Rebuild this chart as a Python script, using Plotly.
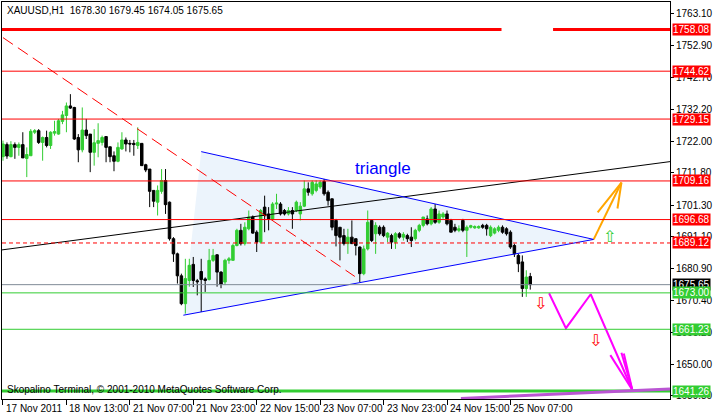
import plotly.graph_objects as go

# ---------------- data ----------------
opens = [1717.0, 1720.9, 1717.0, 1720.9, 1720.0, 1720.9, 1716.4, 1717.3, 1724.9, 1725.4,
         1721.6, 1723.2, 1720.6, 1724.6, 1724.3, 1728.4, 1730.3, 1733.4, 1732.9, 1723.2,
         1719.2, 1725.6, 1724.3, 1718.4, 1721.3, 1721.6, 1723.5, 1720.2, 1717.3, 1715.5,
         1719.5, 1722.4, 1721.3, 1721.3, 1720.6, 1721.3, 1714.4, 1713.0, 1706.1, 1702.3,
         1705.8, 1709.3, 1702.3, 1690.5, 1685.6, 1678.5, 1669.5, 1677.0, 1682.2, 1676.9,
         1679.9, 1677.5, 1677.3, 1683.5, 1685.3, 1679.7, 1676.5, 1683.5, 1683.5, 1688.3,
         1693.2, 1688.9, 1693.7, 1697.5, 1692.6, 1689.4, 1700.7, 1698.5, 1696.9, 1701.7,
         1701.7, 1699.6, 1698.5, 1699.6, 1699.6, 1698.5, 1701.0, 1706.6, 1705.0, 1706.1,
         1707.2, 1709.0, 1705.5, 1703.4, 1696.4, 1694.2, 1691.5, 1688.9, 1691.0, 1690.5,
         1687.8, 1679.2, 1687.2, 1696.4, 1692.1, 1694.2, 1694.2, 1691.0, 1691.5, 1689.4,
         1692.1, 1691.0, 1691.5, 1691.0, 1690.5, 1693.2, 1694.8, 1696.9, 1695.3, 1700.1,
         1695.8, 1697.5, 1698.5, 1696.4, 1694.2, 1693.2, 1696.4, 1693.2, 1694.2, 1694.0,
         1694.0, 1694.8, 1694.8, 1691.5, 1692.3, 1693.2, 1694.2, 1693.7, 1692.6, 1688.3,
         1685.1, 1683.0, 1674.4, 1678.30]
highs = [1722.2, 1721.6, 1722.0, 1721.6, 1721.6, 1724.9, 1720.0, 1725.9, 1725.9, 1725.9,
         1723.5, 1725.4, 1725.2, 1728.6, 1729.2, 1731.8, 1734.5, 1737.2, 1733.1, 1724.3,
         1732.9, 1729.2, 1724.3, 1725.9, 1727.8, 1723.8, 1723.5, 1720.2, 1718.7, 1721.6,
         1724.9, 1723.2, 1722.4, 1722.4, 1726.5, 1721.3, 1714.7, 1713.0, 1706.1, 1707.7,
         1713.0, 1713.0, 1702.5, 1691.0, 1686.0, 1679.2, 1684.0, 1684.0, 1684.6, 1677.5,
         1684.0, 1678.0, 1687.2, 1687.2, 1685.5, 1680.0, 1684.0, 1684.6, 1688.9, 1693.7,
         1695.3, 1695.8, 1699.6, 1698.0, 1693.2, 1700.1, 1704.4, 1700.7, 1702.3, 1705.0,
         1702.3, 1700.1, 1700.7, 1700.7, 1702.8, 1702.3, 1709.3, 1708.7, 1709.3, 1709.3,
         1709.3, 1709.8, 1706.1, 1703.4, 1696.9, 1694.2, 1693.7, 1693.7, 1696.4, 1690.5,
         1688.0, 1688.3, 1699.6, 1696.4, 1695.8, 1694.8, 1694.8, 1692.6, 1692.1, 1692.6,
         1692.6, 1692.6, 1692.1, 1694.2, 1693.7, 1695.3, 1697.5, 1698.0, 1700.7, 1701.7,
         1699.6, 1699.1, 1699.6, 1696.9, 1695.3, 1694.8, 1696.9, 1694.8, 1695.0, 1694.8,
         1694.8, 1695.3, 1695.3, 1694.8, 1694.2, 1694.8, 1694.8, 1694.2, 1693.2, 1688.9,
         1685.6, 1685.1, 1680.3, 1679.45]
lows = [1715.7, 1716.3, 1716.8, 1716.3, 1717.3, 1716.6, 1710.4, 1717.3, 1724.3, 1721.1,
        1715.7, 1720.0, 1719.5, 1723.8, 1724.1, 1727.5, 1724.9, 1732.4, 1722.4, 1715.2,
        1718.4, 1722.7, 1712.0, 1714.1, 1716.8, 1720.6, 1715.2, 1715.2, 1712.3, 1715.2,
        1719.2, 1718.7, 1718.4, 1717.3, 1719.5, 1714.1, 1712.0, 1700.7, 1700.7, 1698.0,
        1705.0, 1698.5, 1689.9, 1683.0, 1676.0, 1669.0, 1666.3, 1675.0, 1674.9, 1672.2,
        1666.8, 1673.3, 1677.0, 1683.0, 1675.0, 1674.5, 1675.5, 1682.4, 1683.5, 1688.0,
        1688.3, 1688.3, 1693.2, 1692.1, 1686.2, 1688.9, 1692.6, 1693.2, 1696.4, 1700.1,
        1698.0, 1698.0, 1698.0, 1693.7, 1699.1, 1696.4, 1700.7, 1704.4, 1704.4, 1705.5,
        1706.6, 1704.4, 1701.2, 1693.2, 1688.0, 1683.5, 1688.3, 1685.6, 1688.9, 1685.1,
        1676.5, 1678.7, 1686.7, 1689.4, 1685.6, 1691.5, 1691.0, 1689.4, 1687.2, 1687.2,
        1690.5, 1689.9, 1689.4, 1687.8, 1689.9, 1692.6, 1694.2, 1694.8, 1694.8, 1695.3,
        1695.3, 1696.9, 1694.8, 1692.6, 1692.6, 1692.6, 1692.6, 1684.6, 1693.8, 1693.7,
        1693.7, 1693.7, 1691.5, 1691.0, 1691.9, 1692.6, 1692.1, 1691.5, 1687.2, 1684.6,
        1679.7, 1671.7, 1671.7, 1674.05]
closes = [1721.1, 1717.2, 1720.9, 1720.0, 1720.9, 1716.6, 1717.7, 1725.2, 1725.4, 1721.6,
          1723.2, 1720.6, 1724.9, 1725.1, 1728.6, 1730.5, 1733.4, 1732.7, 1722.7, 1719.2,
          1725.6, 1723.8, 1718.4, 1721.5, 1722.2, 1723.2, 1720.0, 1717.0, 1715.5, 1720.0,
          1722.4, 1721.1, 1721.1, 1720.9, 1721.6, 1714.1, 1712.7, 1705.8, 1702.6, 1706.1,
          1709.3, 1701.5, 1690.5, 1685.6, 1678.5, 1669.5, 1677.6, 1681.9, 1677.0, 1676.6,
          1677.3, 1677.0, 1683.5, 1685.1, 1679.7, 1675.8, 1683.5, 1684.0, 1688.3, 1693.2,
          1688.9, 1694.2, 1697.5, 1692.3, 1689.4, 1699.6, 1698.0, 1696.9, 1701.7, 1702.0,
          1698.5, 1698.5, 1699.6, 1698.5, 1702.3, 1701.0, 1706.6, 1705.5, 1708.7, 1708.2,
          1708.7, 1705.0, 1702.8, 1694.2, 1691.5, 1691.0, 1688.9, 1691.0, 1688.9, 1688.3,
          1679.2, 1687.2, 1695.8, 1689.9, 1694.8, 1692.1, 1691.5, 1692.3, 1689.4, 1692.1,
          1691.0, 1691.9, 1690.5, 1689.9, 1693.2, 1694.8, 1697.5, 1695.3, 1700.1, 1695.8,
          1698.5, 1698.5, 1695.3, 1692.6, 1693.2, 1693.7, 1693.2, 1694.2, 1694.7, 1694.4,
          1694.4, 1694.2, 1693.7, 1694.2, 1693.7, 1694.2, 1692.6, 1692.1, 1687.8, 1685.6,
          1682.4, 1674.4, 1678.1, 1675.65]
bar_index = list(range(len(opens)))

time_tick_index = [0, 16, 32, 48, 64, 80, 96, 112, 128]
time_tick_labels = ["17 Nov 2011", "18 Nov 13:00", "21 Nov 07:00", "21 Nov 23:00",
                    "22 Nov 15:00", "23 Nov 07:00", "23 Nov 23:00", "24 Nov 15:00",
                    "25 Nov 07:00"]
price_ticks = [1763.10, 1752.90, 1742.70, 1732.20, 1722.00, 1711.80, 1701.30,
               1691.10, 1680.90, 1670.40, 1660.20, 1650.00, 1639.80]

resistance_levels = [1744.62, 1729.15, 1709.16, 1696.68]
major_resistance = 1758.08
major_resistance_from = [-0.25, 138.75]
major_resistance_to = [125.75, 168.25]
pivot_level = 1689.12
bid_level = 1675.65
support_levels = [1673.00, 1661.23]
major_support = 1641.26

red_label_values = [1758.08, 1744.62, 1729.15, 1709.16, 1696.68, 1689.12]
green_label_values = [1673.00, 1661.23, 1641.26]
bid_label_value = 1675.65

# trend lines (bar index, price)
diag_x = [0, 88.75]
diag_y = [1755.46, 1678.30]
channel_x = [-0.25, 168.25]
channel_y = [1686.88, 1715.40]
tri_x = [50, 149, 45.5]
tri_y = [1718.63, 1690.27, 1665.78]
up_path_x = [149, 156]
up_path_y = [1690.27, 1708.64]
up_head_x = [150, 156, 155]
up_head_y = [1698.97, 1708.64, 1700.26]
down_path_x = [137.75, 142, 148.25, 158.75]
down_path_y = [1672.87, 1661.58, 1672.55, 1641.61]
down_head_x = [153.2, 158.75, None, 156.0, 158.75, None, 156.6, 158.75]
down_head_y = [1652.88, 1641.61, None, 1653.63, 1641.61, None, 1653.43, 1641.61]
target_x = [115.5, 168.25]
target_y = [1638.87, 1641.93]
down_sign_x = [135.5, 149.5]
down_sign_y = [1669.6, 1657.7]
up_sign_x = [153]
up_sign_y = [1691.2]
label_x = 95.75
label_y = 1713.2

header = "XAUUSD,H1\u00a0\u00a01678.30 1679.45 1674.05 1675.65"
footer = "Skopalino Terminal, \u00a9 2001-2010 MetaQuotes Software Corp."

# ---------------- figure ----------------
FONT = "Liberation Sans"
GREEN = "#32cd32"
RED = "#ff0000"

fig = go.Figure()
fig.add_trace(go.Candlestick(
    x=bar_index, open=opens, high=highs, low=lows, close=closes,
    increasing=dict(line=dict(color=GREEN, width=1), fillcolor=GREEN),
    decreasing=dict(line=dict(color="#000000", width=1), fillcolor="#000000"),
    whiskerwidth=0, hoverinfo="skip", showlegend=False))

def line(xs, ys, color, width, dash=None):
    fig.add_trace(go.Scatter(x=xs, y=ys, mode="lines",
                             line=dict(color=color, width=width, dash=dash),
                             hoverinfo="skip", showlegend=False))

line(channel_x, channel_y, "#000000", 1)
line(diag_x, diag_y, RED, 1, "12px,6px")
line([tri_x[0], tri_x[1]], [tri_y[0], tri_y[1]], "#0000ff", 1)
line([tri_x[2], tri_x[1]], [tri_y[2], tri_y[1]], "#0000ff", 1)
line(up_path_x, up_path_y, "#ffa500", 2)
line(up_head_x, up_head_y, "#ffa500", 2)
line(down_path_x, down_path_y, "#ff00ff", 2)
line(down_head_x, down_head_y, "#ff00ff", 2)

shapes = []
path = "M {},{} L {},{} L {},{} Z".format(tri_x[0], tri_y[0], tri_x[1], tri_y[1], tri_x[2], tri_y[2])
shapes.append(dict(type="path", path=path, xref="x", yref="y", fillcolor="#ecf4fc",
                   line=dict(width=0), layer="below"))

def hline(y, color, width, dash=None):
    shapes.append(dict(type="line", xref="paper", x0=0, x1=1, yref="y", y0=y, y1=y,
                       line=dict(color=color, width=width, dash=dash), layer="above"))

for lv in resistance_levels:
    hline(lv, RED, 1)
for a, b in zip(major_resistance_from, major_resistance_to):
    shapes.append(dict(type="line", xref="x", x0=a, x1=b, yref="y",
                       y0=major_resistance, y1=major_resistance,
                       line=dict(color=RED, width=3), layer="above"))
hline(pivot_level, RED, 1, "4px,3px")
hline(bid_level, "#7f8a96", 1)
for lv in support_levels:
    hline(lv, GREEN, 1)
hline(major_support, GREEN, 3)
shapes.append(dict(type="line", xref="x", x0=target_x[0], x1=target_x[1], yref="y",
                   y0=target_y[0], y1=target_y[1],
                   line=dict(color="#ba55d3", width=3), layer="above"))

ann = []
for tv, tl in zip(time_tick_index, time_tick_labels):
    ann.append(dict(x=tv, y=-0.005, xref="x", yref="paper", text=tl, showarrow=False,
                    xanchor="left", yanchor="top", xshift=1,
                    font=dict(family=FONT, size=10, color="#000000")))

def price_label(v, bg):
    ann.append(dict(x=1.003, y=v, xref="paper", yref="y", text="{:.2f}".format(v),
                    showarrow=False, xanchor="left", yanchor="middle", bgcolor=bg,
                    borderpad=0, font=dict(family=FONT, size=10, color="#ffffff")))

for v in red_label_values:
    price_label(v, RED)
price_label(bid_label_value, "#000000")
for v in green_label_values:
    price_label(v, GREEN)

ann.append(dict(x=0.005, y=0.997, xref="paper", yref="paper", text=header, showarrow=False,
                xanchor="left", yanchor="top", font=dict(family=FONT, size=10, color="#000000")))
ann.append(dict(x=0.005, y=0.005, xref="paper", yref="paper", text=footer, showarrow=False,
                xanchor="left", yanchor="bottom", font=dict(family=FONT, size=10, color="#000000")))
ann.append(dict(x=label_x, y=label_y, xref="x", yref="y", text="triangle", showarrow=False,
                font=dict(family=FONT, size=17, color="#0000ff")))
for sx, sy in zip(down_sign_x, down_sign_y):
    ann.append(dict(x=sx, y=sy, xref="x", yref="y", text="\u21e9", showarrow=False,
                    font=dict(family="DejaVu Sans", size=16, color=RED)))
for sx, sy in zip(up_sign_x, up_sign_y):
    ann.append(dict(x=sx, y=sy, xref="x", yref="y", text="\u21e7", showarrow=False,
                    font=dict(family="DejaVu Sans", size=16, color=GREEN)))

fig.update_layout(
    width=714, height=416,
    margin=dict(l=2, r=38, t=1, b=17),
    paper_bgcolor="#ffffff", plot_bgcolor="#ffffff",
    showlegend=False, boxgap=0.3, boxgroupgap=0.1,
    shapes=shapes, annotations=ann,
    xaxis=dict(range=[-0.25, 168.25], showgrid=False, zeroline=False,
               showline=True, linecolor="#000000", linewidth=1, mirror=True,
               ticks="outside", ticklen=5, tickcolor="#000000",
               tickvals=time_tick_index, showticklabels=False,
               rangeslider=dict(visible=False), fixedrange=True),
    yaxis=dict(range=[1638.71, 1766.97], side="right", showgrid=False, zeroline=False,
               showline=True, linecolor="#000000", linewidth=1, mirror=True,
               ticks="outside", ticklen=3, tickcolor="#000000",
               tickvals=price_ticks, ticktext=["{:.2f}".format(v) for v in price_ticks],
               tickfont=dict(family=FONT, size=10, color="#000000"), fixedrange=True),
)

fig.write_html("out.html", config={"displayModeBar": False},
               post_script="document.body.style.margin='0';document.body.style.overflow='hidden';")
